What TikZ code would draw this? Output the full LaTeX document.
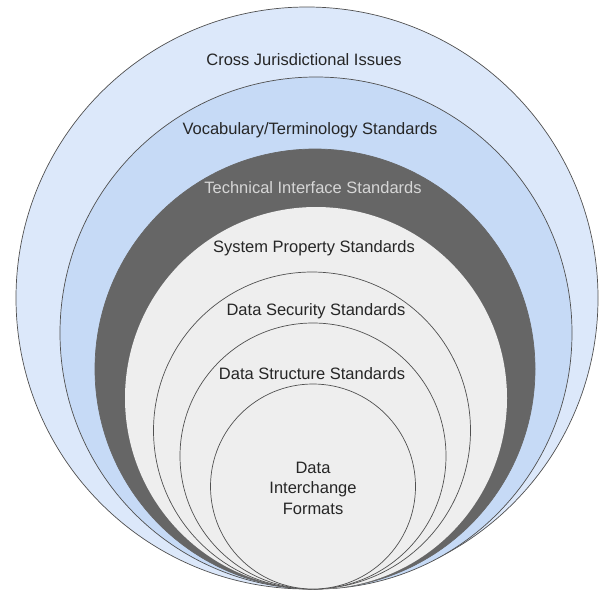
\documentclass[tikz,border=0pt]{standalone}
\usepackage{fontspec}
\setmainfont{Liberation Sans}
\definecolor{outerblue}{HTML}{DCE8FA}
\definecolor{midblue}{HTML}{C6DAF6}
\definecolor{ringgray}{HTML}{666666}
\definecolor{coregray}{HTML}{EEEEEE}
\definecolor{edgegray}{HTML}{505050}
\begin{document}
\begin{tikzpicture}[x=1pt,y=-1pt]
	\tikzset{ring/.style={draw=edgegray, line width=0.7pt},
		lbl/.style={font=\fontsize{16.5}{20.5}\selectfont, text=black!85, align=center, inner sep=0pt}}
	\useasboundingbox (0,0) rectangle (604,592);
	
	\draw[ring, fill=outerblue] (307,298) circle[radius=291pt];
	\draw[ring, fill=midblue] (316,333) circle[radius=256pt];
	\draw[ring, draw=ringgray, fill=ringgray] (315,369) circle[radius=220pt];
	\draw[draw=none, fill=coregray] (316,398) circle[radius=191pt];
	\draw[ring, fill=coregray] (312,430.5) circle[radius=158.5pt];
	\draw[ring, fill=coregray] (313,456) circle[radius=133pt];
	\draw[ring, fill=coregray] (313,486.5) circle[radius=102.5pt];
	
	\node[lbl] (cross) at (304,60) {Cross Jurisdictional Issues};
	\node[lbl] (vocab) at (310,130) {Vocabulary/Terminology Standards};
	\node[lbl, text=coregray!90!black] (techif) at (313,188) {Technical Interface Standards};
	\node[lbl] (sysprop) at (314,248) {System Property Standards};
	\node[lbl] (datasec) at (316,311) {Data Security Standards};
	\node[lbl] (datastruct) at (312,374) {Data Structure Standards};
	\node[lbl] (dataix) at (313,488) {Data\\Interchange\\Formats};
\end{tikzpicture}
\end{document}
